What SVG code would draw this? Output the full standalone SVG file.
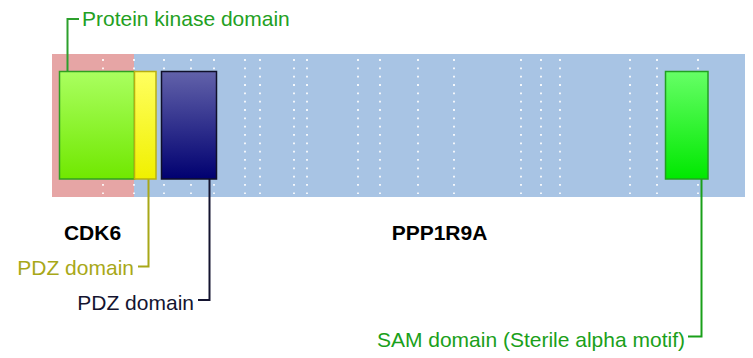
<svg xmlns="http://www.w3.org/2000/svg" width="753" height="358" viewBox="0 0 753 358">
<style>
text{font-family:"Liberation Sans",Arial,sans-serif;font-size:21px}
.b{font-weight:bold;fill:#000}
.dot{stroke:#fff;stroke-width:1.8;stroke-dasharray:1.8 6.53;opacity:0.95}
.ld{fill:none;stroke-width:2}
.box{stroke-width:1.5}
</style>
<defs>
<linearGradient id="gKin" x1="0" y1="0" x2="0" y2="1"><stop offset="0" stop-color="#aaff60"/><stop offset="1" stop-color="#70e800"/></linearGradient>
<linearGradient id="gYel" x1="0" y1="0" x2="0" y2="1"><stop offset="0" stop-color="#ffff60"/><stop offset="1" stop-color="#f0f000"/></linearGradient>
<linearGradient id="gNav" x1="0" y1="0" x2="0" y2="1"><stop offset="0" stop-color="#6262aa"/><stop offset="1" stop-color="#000070"/></linearGradient>
<linearGradient id="gSam" x1="0" y1="0" x2="0" y2="1"><stop offset="0" stop-color="#66ff66"/><stop offset="1" stop-color="#00e800"/></linearGradient>
</defs>
<g id="background">
<rect x="52" y="54" width="82" height="143" fill="#e6a5a5"/>
<rect x="134" y="54" width="611" height="143" fill="#a8c4e4"/>
<g id="grid">
<line class="dot" x1="103" y1="59.1" x2="103" y2="194"/>
<line class="dot" x1="134" y1="59.1" x2="134" y2="194"/>
<line class="dot" x1="164" y1="59.1" x2="164" y2="194"/>
<line class="dot" x1="191" y1="59.1" x2="191" y2="194"/>
<line class="dot" x1="214" y1="59.1" x2="214" y2="194"/>
<line class="dot" x1="245" y1="59.1" x2="245" y2="194"/>
<line class="dot" x1="260" y1="59.1" x2="260" y2="194"/>
<line class="dot" x1="294" y1="59.1" x2="294" y2="194"/>
<line class="dot" x1="307" y1="59.1" x2="307" y2="194"/>
<line class="dot" x1="358" y1="59.1" x2="358" y2="194"/>
<line class="dot" x1="380" y1="59.1" x2="380" y2="194"/>
<line class="dot" x1="418" y1="59.1" x2="418" y2="194"/>
<line class="dot" x1="454" y1="59.1" x2="454" y2="194"/>
<line class="dot" x1="521" y1="59.1" x2="521" y2="194"/>
<line class="dot" x1="541" y1="59.1" x2="541" y2="194"/>
<line class="dot" x1="560" y1="59.1" x2="560" y2="194"/>
<line class="dot" x1="630" y1="59.1" x2="630" y2="194"/>
<line class="dot" x1="657" y1="59.1" x2="657" y2="194"/>
<line class="dot" x1="698" y1="59.1" x2="698" y2="194"/>
</g>
</g>
<g id="connectors">
<polyline class="ld" stroke="#2ca02c" points="79,19 67.5,19 67.5,72"/>
<polyline class="ld" stroke="#a8a818" points="148.5,179 148.5,266.5 138,266.5"/>
<polyline class="ld" stroke="#141430" points="209.5,179 209.5,300 198,300"/>
<polyline class="ld" stroke="#1aa01a" points="701.5,179 701.5,336.5 688,336.5"/>
</g>
<g id="kinase">
<rect class="box" x="59.5" y="71.5" width="75" height="107.5" fill="url(#gKin)" stroke="#30a020"/>
<text x="82" y="26" fill="#22a022">Protein kinase domain</text>
</g>
<g id="pdz1">
<rect class="box" x="134.5" y="71.5" width="21.5" height="107.5" fill="url(#gYel)" stroke="#b8b010"/>
<text x="134" y="275" text-anchor="end" fill="#a8a818">PDZ domain</text>
</g>
<g id="pdz2">
<rect class="box" x="161.5" y="71.5" width="55" height="107.5" fill="url(#gNav)" stroke="#10102a"/>
<text x="194" y="310" text-anchor="end" fill="#141430">PDZ domain</text>
</g>
<g id="sam">
<rect class="box" x="665.5" y="71.5" width="42.5" height="107.5" fill="url(#gSam)" stroke="#22a022"/>
<text x="685" y="347" text-anchor="end" fill="#1aa01a">SAM domain (Sterile alpha motif)</text>
</g>
<g id="cdk6"><text class="b" x="92.5" y="240" text-anchor="middle">CDK6</text></g>
<g id="ppp1r9a"><text class="b" x="439.5" y="239.5" text-anchor="middle">PPP1R9A</text></g>
</svg>
